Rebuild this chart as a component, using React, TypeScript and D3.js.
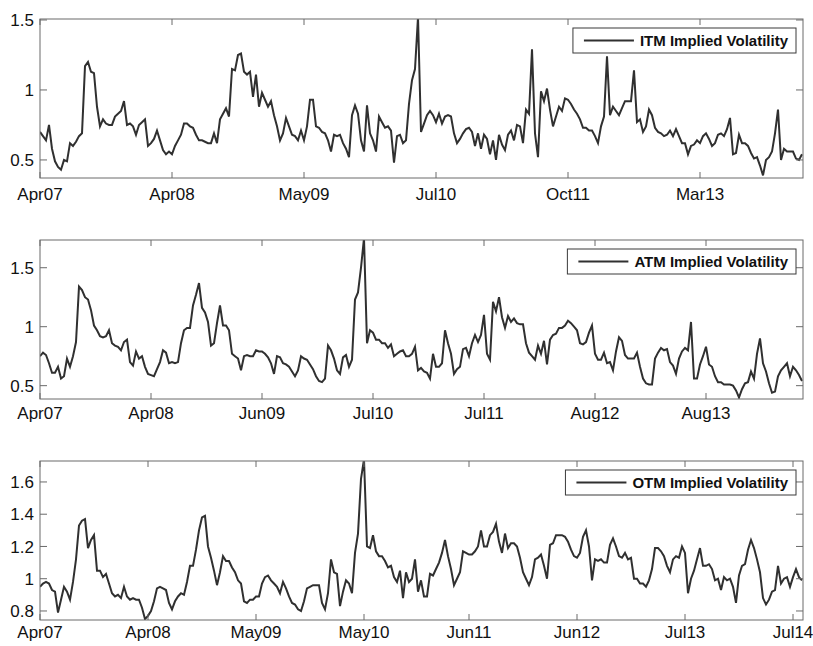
import { scaleLinear, line } from "d3";

// implied volatility series, one value per ~3px of the original plot
const itmValues = [
  0.70, 0.67, 0.64, 0.75, 0.58, 0.49, 0.45, 0.43, 0.50, 0.49, 0.62, 0.60, 0.63, 0.67, 0.69,
  1.17, 1.20, 1.13, 1.12, 0.88, 0.74, 0.79, 0.76, 0.75, 0.75, 0.81, 0.83, 0.85, 0.92, 0.75,
  0.76, 0.74, 0.68, 0.75, 0.77, 0.79, 0.60, 0.62, 0.65, 0.71, 0.64, 0.57, 0.54, 0.56, 0.54,
  0.60, 0.64, 0.68, 0.76, 0.76, 0.74, 0.73, 0.68, 0.64, 0.64, 0.63, 0.62, 0.62, 0.69, 0.62,
  0.79, 0.83, 0.87, 0.81, 1.15, 1.14, 1.25, 1.26, 1.13, 1.11, 1.13, 0.95, 1.11, 0.88, 0.98,
  0.93, 0.88, 0.92, 0.82, 0.74, 0.64, 0.69, 0.80, 0.74, 0.68, 0.67, 0.64, 0.71, 0.64, 0.74,
  0.93, 0.93, 0.74, 0.73, 0.70, 0.69, 0.64, 0.56, 0.68, 0.67, 0.68, 0.62, 0.58, 0.52, 0.82,
  0.89, 0.83, 0.64, 0.56, 0.89, 0.69, 0.64, 0.56, 0.81, 0.77, 0.73, 0.74, 0.71, 0.48, 0.67,
  0.68, 0.62, 0.64, 0.90, 1.07, 1.15, 1.52, 0.70, 0.76, 0.82, 0.85, 0.82, 0.77, 0.83, 0.76,
  0.81, 0.82, 0.81, 0.69, 0.62, 0.65, 0.69, 0.72, 0.73, 0.70, 0.60, 0.69, 0.58, 0.68, 0.65,
  0.54, 0.64, 0.50, 0.68, 0.61, 0.57, 0.68, 0.71, 0.64, 0.75, 0.74, 0.62, 0.86, 0.83, 1.29,
  0.69, 0.52, 0.99, 0.92, 1.01, 0.86, 0.74, 0.81, 0.88, 0.85, 0.94, 0.93, 0.90, 0.86, 0.83,
  0.79, 0.73, 0.73, 0.71, 0.71, 0.67, 0.62, 0.74, 0.81, 1.24, 0.82, 0.88, 0.85, 0.82, 0.87,
  0.92, 0.92, 0.92, 1.14, 0.77, 0.79, 0.70, 0.74, 0.86, 0.82, 0.73, 0.70, 0.69, 0.67, 0.68,
  0.71, 0.67, 0.72, 0.67, 0.62, 0.62, 0.54, 0.60, 0.61, 0.64, 0.62, 0.67, 0.69, 0.65, 0.60,
  0.62, 0.68, 0.69, 0.67, 0.72, 0.80, 0.54, 0.55, 0.68, 0.62, 0.62, 0.60, 0.55, 0.51, 0.52,
  0.46, 0.39, 0.50, 0.52, 0.56, 0.69, 0.86, 0.50, 0.58, 0.56, 0.56, 0.56, 0.51, 0.50, 0.54,
];

const atmValues = [
  0.75, 0.78, 0.76, 0.69, 0.61, 0.61, 0.66, 0.56, 0.58, 0.73, 0.66, 0.75, 0.87, 1.34, 1.31,
  1.25, 1.23, 1.14, 1.01, 0.97, 0.92, 0.91, 0.92, 0.97, 0.86, 0.84, 0.83, 0.80, 0.87, 0.89,
  0.70, 0.67, 0.79, 0.73, 0.75, 0.66, 0.60, 0.59, 0.58, 0.64, 0.70, 0.80, 0.78, 0.69, 0.70,
  0.69, 0.70, 0.86, 0.97, 0.99, 0.99, 1.18, 1.27, 1.37, 1.16, 1.12, 1.04, 0.84, 0.86, 1.03,
  1.18, 1.01, 1.01, 0.97, 0.77, 0.75, 0.73, 0.63, 0.75, 0.76, 0.75, 0.75, 0.80, 0.79, 0.79,
  0.77, 0.74, 0.69, 0.60, 0.75, 0.74, 0.69, 0.68, 0.66, 0.62, 0.58, 0.63, 0.75, 0.73, 0.72,
  0.68, 0.64, 0.58, 0.54, 0.53, 0.56, 0.84, 0.80, 0.73, 0.63, 0.60, 0.74, 0.76, 0.66, 0.72,
  1.23, 1.29, 1.50, 1.75, 0.86, 0.97, 0.95, 0.89, 0.89, 0.86, 0.86, 0.82, 0.85, 0.75, 0.77,
  0.79, 0.80, 0.75, 0.75, 0.77, 0.83, 0.63, 0.65, 0.62, 0.61, 0.56, 0.77, 0.66, 0.66, 0.69,
  0.97, 0.86, 0.77, 0.60, 0.64, 0.66, 0.81, 0.82, 0.75, 0.86, 0.93, 0.87, 0.93, 1.10, 0.77,
  0.72, 1.21, 1.13, 1.25, 1.08, 0.99, 1.09, 1.04, 1.07, 1.03, 1.02, 1.02, 0.86, 0.78, 0.75,
  0.72, 0.84, 0.77, 0.88, 0.68, 0.89, 0.93, 0.94, 0.99, 0.99, 1.01, 1.05, 1.03, 1.00, 0.97,
  0.86, 0.85, 0.87, 0.95, 1.01, 0.77, 0.72, 0.72, 0.78, 0.69, 0.70, 0.63, 0.79, 0.91, 0.88,
  0.76, 0.73, 0.73, 0.73, 0.78, 0.66, 0.56, 0.52, 0.51, 0.51, 0.73, 0.78, 0.82, 0.80, 0.81,
  0.70, 0.67, 0.60, 0.73, 0.79, 0.82, 0.80, 1.04, 0.56, 0.56, 0.68, 0.75, 0.83, 0.68, 0.66,
  0.58, 0.53, 0.53, 0.51, 0.51, 0.51, 0.50, 0.46, 0.40, 0.47, 0.52, 0.53, 0.62, 0.56, 0.77,
  0.90, 0.69, 0.62, 0.52, 0.44, 0.45, 0.58, 0.63, 0.66, 0.69, 0.58, 0.66, 0.63, 0.59, 0.54,
];

const otmValues = [
  0.95, 0.97, 0.98, 0.97, 0.93, 0.92, 0.79, 0.87, 0.95, 0.92, 0.87, 0.98, 1.12, 1.33, 1.36,
  1.37, 1.19, 1.24, 1.27, 1.05, 1.05, 1.01, 1.03, 0.97, 0.91, 0.89, 0.90, 0.88, 0.95, 0.89,
  0.87, 0.88, 0.87, 0.87, 0.82, 0.75, 0.77, 0.80, 0.86, 0.94, 0.95, 0.94, 0.93, 0.85, 0.81,
  0.86, 0.89, 0.91, 0.90, 0.98, 1.08, 1.08, 1.18, 1.30, 1.38, 1.39, 1.20, 1.13, 1.05, 0.96,
  1.04, 1.14, 1.11, 1.11, 1.07, 1.04, 0.99, 0.97, 0.86, 0.85, 0.87, 0.87, 0.89, 0.89, 0.97,
  1.01, 1.02, 0.99, 0.97, 0.95, 0.91, 0.98, 0.94, 0.89, 0.85, 0.84, 0.81, 0.80, 0.86, 0.94,
  0.95, 0.96, 0.96, 0.96, 0.85, 0.81, 0.91, 1.12, 1.04, 1.03, 0.83, 0.92, 0.99, 0.97, 0.91,
  1.16, 1.28, 1.62, 1.74, 1.20, 1.19, 1.27, 1.17, 1.14, 1.14, 1.11, 1.07, 1.08, 1.01, 0.98,
  1.05, 0.88, 1.04, 0.98, 1.00, 1.12, 0.92, 0.99, 0.89, 0.89, 1.03, 1.02, 1.06, 1.10, 1.16,
  1.24, 1.14, 1.06, 0.96, 1.00, 1.04, 1.17, 1.16, 1.15, 1.15, 1.17, 1.20, 1.30, 1.20, 1.20,
  1.27, 1.29, 1.34, 1.23, 1.16, 1.28, 1.19, 1.22, 1.22, 1.20, 1.13, 1.04, 1.00, 0.96, 1.01,
  1.12, 1.13, 1.15, 1.08, 1.00, 1.21, 1.22, 1.27, 1.27, 1.27, 1.26, 1.23, 1.18, 1.14, 1.13,
  1.16, 1.26, 1.30, 1.20, 0.99, 1.12, 1.11, 1.12, 1.10, 1.10, 1.21, 1.25, 1.20, 1.14, 1.13,
  1.16, 1.12, 1.13, 1.00, 1.00, 0.97, 0.97, 0.95, 0.99, 1.06, 1.19, 1.19, 1.17, 1.14, 1.08,
  1.04, 1.12, 1.14, 1.13, 1.20, 1.16, 0.91, 1.00, 1.05, 1.12, 1.19, 1.08, 1.08, 1.09, 1.06,
  0.99, 1.00, 0.93, 1.01, 0.99, 1.00, 0.95, 0.85, 1.02, 1.08, 1.09, 1.18, 1.24, 1.19, 1.12,
  1.04, 0.88, 0.84, 0.87, 0.92, 0.93, 1.08, 0.97, 1.00, 1.01, 0.95, 1.01, 1.06, 1.01, 0.99,
];

const itmTickIdx = [0, 44, 88, 132, 176, 220];
const itmTickLabels = ["Apr07", "Apr08", "May09", "Jul10", "Oct11", "Mar13"];
const atmTickIdx = [0, 37, 74, 111, 148, 185, 222];
const atmTickLabels = ["Apr07", "Apr08", "Jun09", "Jul10", "Jul11", "Aug12", "Aug13"];
const otmTickIdx = [0, 36, 72, 108, 143, 179, 215, 251];
const otmTickLabels = ["Apr07", "Apr08", "May09", "May10", "Jun11", "Jun12", "Jul13", "Jul14"];

const itmYTicks = [0.5, 1, 1.5];
const atmYTicks = [0.5, 1, 1.5];
const otmYTicks = [0.8, 1, 1.2, 1.4, 1.6];

const FONT = "'Liberation Sans', Arial, Helvetica, sans-serif";
const LEFT = 40;
const RIGHT = 803;
const PANEL_H = 159;

function textWidth(text: string, font: string) {
  const ctx = document.createElement("canvas").getContext("2d");
  if (!ctx) return text.length * 7;
  ctx.font = font;
  return ctx.measureText(text).width;
}

function Panel({
  id,
  top,
  values,
  yDomain,
  yTicks,
  xTicks,
  xLabels,
  legend,
  labelGap,
}: {
  id: string;
  top: number;
  values: number[];
  yDomain: [number, number];
  yTicks: number[];
  xTicks: number[];
  xLabels: string[];
  legend: string;
  labelGap: number;
}) {
  const bottom = top + PANEL_H;
  const x = scaleLinear().domain([0, values.length - 1]).range([LEFT, RIGHT - 1]);
  const y = scaleLinear().domain(yDomain).range([bottom, top]);
  const path = line<number>()
    .x((_, i) => x(i))
    .y((d) => y(d))(values);

  const legendFont = `bold 15px ${FONT}`;
  const tw = textWidth(legend, legendFont);
  const boxRight = RIGHT - 7;
  const boxW = tw + 75;
  const boxX = boxRight - boxW;
  const boxY = top + 9;
  const boxH = 25;

  return (
    <g>
      <defs>
        <clipPath id={`clip-${id}`}>
          <rect x={LEFT} y={top} width={RIGHT - LEFT} height={PANEL_H} />
        </clipPath>
      </defs>
      <path
        d={path ?? ""}
        fill="none"
        stroke="#303030"
        strokeWidth={2}
        strokeLinejoin="miter"
        clipPath={`url(#clip-${id})`}
      />
      <rect x={LEFT} y={top} width={RIGHT - LEFT} height={PANEL_H} fill="none" stroke="#6a6a6a" strokeWidth={1} />
      {xTicks.map((t, i) => (
        <g key={`x${i}`}>
          <line x1={x(t)} x2={x(t)} y1={bottom} y2={bottom - 6} stroke="#6a6a6a" />
          <line x1={x(t)} x2={x(t)} y1={top} y2={top + 6} stroke="#6a6a6a" />
          <text
            x={x(t)}
            y={bottom + labelGap}
            textAnchor="middle"
            fontFamily={FONT}
            fontSize={17}
            fill="#111"
          >
            {xLabels[i]}
          </text>
        </g>
      ))}
      {yTicks.map((t) => (
        <g key={`y${t}`}>
          <line x1={LEFT} x2={LEFT + 7} y1={y(t)} y2={y(t)} stroke="#6a6a6a" />
          <line x1={RIGHT} x2={RIGHT - 7} y1={y(t)} y2={y(t)} stroke="#6a6a6a" />
          <text
            x={LEFT - 6}
            y={y(t)}
            dy="0.36em"
            textAnchor="end"
            fontFamily={FONT}
            fontSize={17}
            fill="#111"
          >
            {String(t)}
          </text>
        </g>
      ))}
      <rect x={boxX} y={boxY} width={boxW} height={boxH} fill="#fff" stroke="#3a3a3a" strokeWidth={1} />
      <line
        x1={boxX + 11}
        x2={boxX + 61}
        y1={boxY + boxH / 2}
        y2={boxY + boxH / 2}
        stroke="#303030"
        strokeWidth={2}
      />
      <text
        x={boxX + 67}
        y={boxY + boxH / 2}
        dy="0.36em"
        fontFamily={FONT}
        fontSize={15}
        fontWeight="bold"
        fill="#111"
      >
        {legend}
      </text>
    </g>
  );
}

export default function App() {
  return (
    <svg
      width={813}
      height={646}
      viewBox="0 0 813 646"
      style={{ position: "absolute", left: 0, top: 0, background: "#fff" }}
    >
      <rect width={813} height={646} fill="#fff" />
      <Panel
        id="itm"
        top={19}
        values={itmValues}
        yDomain={[0.371, 1.507]}
        yTicks={itmYTicks}
        xTicks={itmTickIdx}
        xLabels={itmTickLabels}
        legend="ITM Implied Volatility"
        labelGap={22}
      />
      <Panel
        id="atm"
        top={240}
        values={atmValues}
        yDomain={[0.387, 1.735]}
        yTicks={atmYTicks}
        xTicks={atmTickIdx}
        xLabels={atmTickLabels}
        legend="ATM Implied Volatility"
        labelGap={19.5}
      />
      <Panel
        id="otm"
        top={461}
        values={otmValues}
        yDomain={[0.744, 1.73]}
        yTicks={otmYTicks}
        xTicks={otmTickIdx}
        xLabels={otmTickLabels}
        legend="OTM Implied Volatility"
        labelGap={17.5}
      />
    </svg>
  );
}
